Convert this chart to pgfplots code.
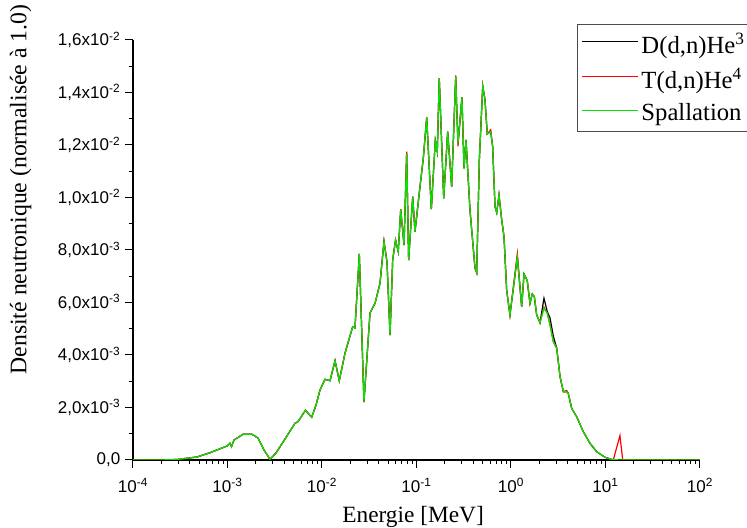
\documentclass[border=0pt]{standalone}
\usepackage{pgfplots}
\pgfplotsset{compat=1.18}
\usepackage{pgfplotstable}
\usepackage{fontspec}
\setmainfont{Liberation Serif}
\newfontfamily\arial{Liberation Sans}
\definecolor{pgreen}{RGB}{0,230,0}

% L = log10(E / MeV), v = normalised density
\pgfplotstableread{
L v
-4.000 0
-3.714 0.0000010
-3.534 0.0000190
-3.323 0.0001140
-3.185 0.0002780
-3.005 0.0005330
-2.974 0.0006360
-2.958 0.0005070
-2.931 0.0007620
-2.836 0.0009790
-2.741 0.0009790
-2.677 0.0008380
-2.614 0.0003810
-2.550 0.0000270
-2.487 0.0002670
-2.410 0.0006970
-2.286 0.0013980
-2.254 0.0014590
-2.175 0.0018930
-2.109 0.0016270
-2.063 0.0020950
-2.021 0.0026670
-1.968 0.0030740
-1.915 0.0030210
-1.862 0.0037830
-1.817 0.0030210
-1.757 0.0040650
-1.675 0.0050780
-1.651 0.0050290
-1.605 0.0078480
-1.556 0.0022100
-1.492 0.0056000
-1.439 0.0059700
-1.386 0.0067310
-1.344 0.0083160
-1.312 0.0075430
-1.280 0.0047620
-1.252 0.0076190
-1.222 0.0083810
-1.193 0.0079350
-1.167 0.0095500
-1.132 0.0081900
-1.104 0.0116570
-1.083 0.0076190
-1.040 0.0100300
-1.016 0.0086970
-0.963 0.0104110
-0.928 0.0114930
-0.892 0.0130550
-0.843 0.0095620
-0.801 0.0121640
-0.780 0.0117450
-0.759 0.0145410
-0.712 0.0099700
-0.670 0.0125070
-0.628 0.0104110
-0.585 0.0146020
-0.561 0.0120650
-0.519 0.0138170
-0.497 0.0111120
-0.476 0.0121900
-0.434 0.0095240
-0.381 0.0073140
-0.363 0.0071350
-0.335 0.0114290
-0.299 0.0142480
-0.275 0.0137140
-0.251 0.0124190
-0.215 0.0125070
-0.194 0.0119350
-0.169 0.0096500
-0.151 0.0094210
-0.127 0.0100950
-0.098 0.0091430
-0.074 0.0085070
-0.046 0.0064760
-0.011 0.0055240
0.067 0.0077220
0.113 0.0058400
0.138 0.0070860
0.172 0.0068300
0.201 0.0059700
0.225 0.0063240
0.247 0.0062210
0.272 0.0055240
0.307 0.0052300
0.349 0.0061600
0.384 0.0056500
0.413 0.0054100
0.448 0.0047200
0.484 0.0042550
0.519 0.0031730
0.554 0.0026020
0.589 0.0026020
0.606 0.0025410
0.642 0.0019700
0.695 0.0016500
0.765 0.0010780
0.836 0.0006360
0.907 0.0003160
0.995 0.0001030
1.066 0.0000190
1.153 0
2.000 0
}\dataDD

\pgfplotstableread{
L v
-4.000 0
-3.714 0.0000010
-3.534 0.0000190
-3.323 0.0001140
-3.185 0.0002780
-3.005 0.0005330
-2.974 0.0006360
-2.958 0.0005070
-2.931 0.0007620
-2.836 0.0009790
-2.741 0.0009790
-2.677 0.0008380
-2.614 0.0003810
-2.550 0.0000270
-2.487 0.0002670
-2.410 0.0006970
-2.286 0.0013980
-2.254 0.0014590
-2.175 0.0018930
-2.109 0.0016270
-2.063 0.0020950
-2.021 0.0026670
-1.968 0.0030740
-1.915 0.0030210
-1.862 0.0037830
-1.817 0.0030210
-1.757 0.0040650
-1.675 0.0050780
-1.651 0.0050290
-1.605 0.0078480
-1.556 0.0022100
-1.492 0.0056000
-1.439 0.0059700
-1.386 0.0067310
-1.344 0.0083500
-1.312 0.0075430
-1.280 0.0047620
-1.252 0.0076190
-1.222 0.0083810
-1.193 0.0079350
-1.167 0.0095500
-1.132 0.0081900
-1.104 0.0117500
-1.083 0.0076190
-1.040 0.0100300
-1.016 0.0086970
-0.963 0.0104110
-0.928 0.0114930
-0.892 0.0130550
-0.843 0.0095620
-0.801 0.0121640
-0.780 0.0117450
-0.759 0.0145410
-0.712 0.0099700
-0.670 0.0125070
-0.628 0.0104110
-0.585 0.0146500
-0.561 0.0119500
-0.519 0.0138170
-0.497 0.0111120
-0.476 0.0121900
-0.434 0.0095240
-0.381 0.0073140
-0.363 0.0071350
-0.335 0.0114290
-0.299 0.0142480
-0.275 0.0137140
-0.251 0.0124190
-0.215 0.0125800
-0.194 0.0119350
-0.169 0.0096500
-0.151 0.0094210
-0.127 0.0100950
-0.098 0.0091430
-0.074 0.0085070
-0.046 0.0064760
-0.011 0.0055240
0.067 0.0078600
0.113 0.0058400
0.138 0.0070860
0.172 0.0068300
0.201 0.0059700
0.225 0.0063240
0.247 0.0062210
0.272 0.0055240
0.307 0.0052300
0.349 0.0058200
0.384 0.0055890
0.413 0.0051430
0.448 0.0045070
0.484 0.0042550
0.519 0.0031730
0.554 0.0026020
0.589 0.0026500
0.606 0.0025410
0.642 0.0019700
0.695 0.0016500
0.765 0.0010780
0.836 0.0006360
0.907 0.0003160
0.995 0.0001030
1.066 0.0000190
1.083 0.0000100
1.153 0.0009300
1.182 0.0000100
1.250 0
2.000 0
}\dataDT

\pgfplotstableread{
L v
-4.000 0
-3.714 0.0000010
-3.534 0.0000190
-3.323 0.0001140
-3.185 0.0002780
-3.005 0.0005330
-2.974 0.0006360
-2.958 0.0005070
-2.931 0.0007620
-2.836 0.0009790
-2.741 0.0009790
-2.677 0.0008380
-2.614 0.0003810
-2.550 0.0000270
-2.487 0.0002670
-2.410 0.0006970
-2.286 0.0013980
-2.254 0.0014590
-2.175 0.0018930
-2.109 0.0016270
-2.063 0.0020950
-2.021 0.0026670
-1.968 0.0030740
-1.915 0.0030210
-1.862 0.0037830
-1.817 0.0030210
-1.757 0.0040650
-1.675 0.0050780
-1.651 0.0050290
-1.605 0.0078480
-1.556 0.0022100
-1.492 0.0056000
-1.439 0.0059700
-1.386 0.0067310
-1.344 0.0083160
-1.312 0.0075430
-1.280 0.0047620
-1.252 0.0076190
-1.222 0.0083810
-1.193 0.0079350
-1.167 0.0095500
-1.132 0.0081900
-1.104 0.0116570
-1.083 0.0076190
-1.040 0.0100300
-1.016 0.0086970
-0.963 0.0104110
-0.928 0.0114930
-0.892 0.0130550
-0.843 0.0095620
-0.801 0.0121640
-0.780 0.0117450
-0.759 0.0145410
-0.712 0.0099700
-0.670 0.0125070
-0.628 0.0104110
-0.585 0.0146020
-0.561 0.0120650
-0.519 0.0138170
-0.497 0.0111120
-0.476 0.0121900
-0.434 0.0095240
-0.381 0.0073140
-0.363 0.0071350
-0.335 0.0114290
-0.299 0.0142480
-0.275 0.0137140
-0.251 0.0124190
-0.215 0.0125070
-0.194 0.0119350
-0.169 0.0096500
-0.151 0.0094210
-0.127 0.0100950
-0.098 0.0091430
-0.074 0.0085070
-0.046 0.0064760
-0.011 0.0055240
0.067 0.0077220
0.113 0.0058400
0.138 0.0070860
0.172 0.0068300
0.201 0.0059700
0.225 0.0063240
0.247 0.0062210
0.272 0.0055240
0.307 0.0052300
0.349 0.0057790
0.384 0.0055890
0.413 0.0051430
0.448 0.0045070
0.484 0.0042550
0.519 0.0031730
0.554 0.0026020
0.589 0.0026020
0.606 0.0025410
0.642 0.0019700
0.695 0.0016500
0.765 0.0010780
0.836 0.0006360
0.907 0.0003160
0.995 0.0001030
1.066 0.0000190
1.153 0
2.000 0
}\dataSP

\begin{document}
\begin{tikzpicture}
\begin{axis}[
  name=ax,
  scale only axis,
  width=425.25pt, height=315pt,
  xmin=-4, xmax=2, ymin=0, ymax=0.016,
  axis x line=bottom, axis y line=left,
  x axis line style={-, line width=0.9pt},
  y axis line style={-, line width=0.9pt},
  tick align=outside,
  major tick length=6pt, minor tick length=3.2pt,
  every tick/.style={black, line width=0.75pt},
  xtick={-4,-3,-2,-1,0,1,2},
  xticklabels={{10\textsuperscript{-4}},{10\textsuperscript{-3}},{10\textsuperscript{-2}},{10\textsuperscript{-1}},{10\textsuperscript{0}},{10\textsuperscript{1}},{10\textsuperscript{2}}},
  minor xtick={-3.699,-3.523,-3.398,-3.301,-3.222,-3.155,-3.097,-3.046,
               -2.699,-2.523,-2.398,-2.301,-2.222,-2.155,-2.097,-2.046,
               -1.699,-1.523,-1.398,-1.301,-1.222,-1.155,-1.097,-1.046,
               -0.699,-0.523,-0.398,-0.301,-0.222,-0.155,-0.097,-0.046,
               0.301,0.477,0.602,0.699,0.778,0.845,0.903,0.954,
               1.301,1.477,1.602,1.699,1.778,1.845,1.903,1.954},
  ytick={0,0.002,0.004,0.006,0.008,0.010,0.012,0.014,0.016},
  yticklabels={{0,0},{2,0x10\textsuperscript{-3}},{4,0x10\textsuperscript{-3}},{6,0x10\textsuperscript{-3}},{8,0x10\textsuperscript{-3}},{1,0x10\textsuperscript{-2}},{1,2x10\textsuperscript{-2}},{1,4x10\textsuperscript{-2}},{1,6x10\textsuperscript{-2}}},
  minor ytick={0.001,0.003,0.005,0.007,0.009,0.011,0.013,0.015},
  scaled y ticks=false,
  xticklabel style={font=\arial\fontsize{12.75}{14}\selectfont, yshift=-4pt},
  yticklabel style={font=\arial\fontsize{12.75}{14}\selectfont},
  xlabel={Energie [MeV]},
  ylabel={Densité neutronique (normalisée à 1.0)},
  xlabel style={font=\fontsize{17.5}{20}\selectfont, at={(axis description cs:0.494,-0.136)}, anchor=center},
  ylabel style={font=\fontsize{17.8}{20}\selectfont, at={(axis description cs:-0.198,0.644)}, anchor=center},
  legend style={at={(axis description cs:0.783,1.038)}, anchor=north west,
    draw=black!70, line width=0.8pt, font=\fontsize{18.5}{21}\selectfont,
    inner xsep=3pt, inner ysep=4.5pt, row sep=6pt, cells={anchor=west}},
  legend image code/.code={\draw[#1, line width=1pt] (0pt,2pt) -- (42pt,2pt);},
  legend cell align=left,
]
\addplot[draw=black, line width=0.9pt] table[x=L, y=v] {\dataDD};
\addlegendentry{D(d,n)He\textsuperscript{3}}
\addplot[draw=red, line width=0.9pt] table[x=L, y=v] {\dataDT};
\addlegendentry{T(d,n)He\textsuperscript{4}}
\addplot[draw=pgreen, line width=0.9pt] table[x=L, y=v] {\dataSP};
\addlegendentry{Spallation\hspace*{12pt}}
\end{axis}
\pgfresetboundingbox
\useasboundingbox ([shift={(-99.75pt,-51pt)}]ax.south west) rectangle ([shift={(460.5pt,345pt)}]ax.south west);
\end{tikzpicture}
\end{document}
